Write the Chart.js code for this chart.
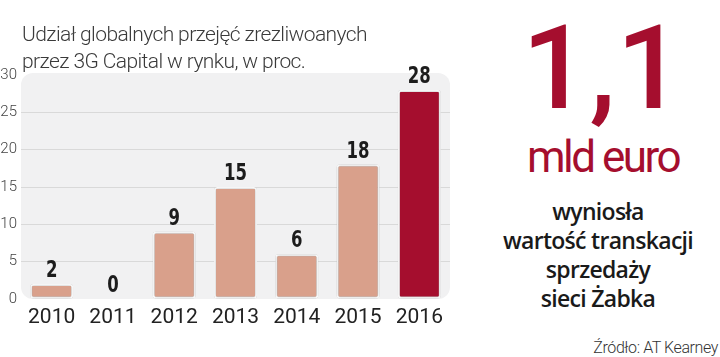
<!DOCTYPE html>
<html><head><meta charset="utf-8">
<script src="https://cdn.jsdelivr.net/npm/chart.js@4"></script>
<style>
html,body{margin:0;padding:0;background:#fff;width:720px;height:357px;overflow:hidden}
#wrap{position:absolute;left:0;top:0;width:460px;height:357px}
.t{position:absolute;white-space:nowrap}
#title{left:22px;top:21px;font-family:Roboto,sans-serif;font-weight:300;font-size:21px;line-height:27px;color:#3a3a3a;letter-spacing:-0.6px}
#big{left:503px;width:200px;top:10px;text-align:center;font-family:Roboto,sans-serif;font-weight:500;font-size:117px;line-height:117px;color:#a50e2e;letter-spacing:1px}
#mld{left:503px;width:200px;top:135px;text-align:center;font-family:Roboto,sans-serif;font-weight:400;font-size:44px;line-height:44px;color:#a50e2e;letter-spacing:-2.5px}
#desc{left:488px;width:220px;top:197px;text-align:center;font-family:"Open Sans",sans-serif;font-weight:600;font-size:23px;line-height:29px;color:#1a1a1a;letter-spacing:-0.7px}
#src{right:2px;top:340px;font-family:Roboto,sans-serif;font-weight:300;font-size:16px;line-height:16px;color:#333;letter-spacing:-0.4px}
</style></head><body>
<div id="wrap"><canvas id="c" width="460" height="357"></canvas></div>
<div class="t" id="title">Udział globalnych przejęć zrezliwoanych<br>przez 3G Capital w rynku, w proc.</div>
<div class="t" id="big">1,1</div>
<div class="t" id="mld">mld euro</div>
<div class="t" id="desc">wyniosła<br>wartość transkacji<br>sprzedaży<br>sieci Żabka</div>
<div class="t" id="src">Źródło: AT Kearney</div>
<script>
const categories = ["2010","2011","2012","2013","2014","2015","2016"];
const values = [2, 0, 9, 15, 6, 18, 28];
const barColors = ["#d9a08b","#d9a08b","#d9a08b","#d9a08b","#d9a08b","#d9a08b","#a50e2e"];
const yTicks = [0,5,10,15,20,25,30];

const bgPlugin = {
  id:'bg',
  beforeDraw(chart){
    const {ctx, chartArea:a} = chart;
    ctx.save();
    ctx.fillStyle = '#f1f1f2';
    ctx.beginPath();
    ctx.roundRect(a.left, a.top-2, a.right-a.left, a.bottom-a.top+2, 12);
    ctx.fill();
    ctx.restore();
  }
};
const shadowPlugin = {
  id:'shadow',
  beforeDatasetsDraw(chart){
    const ctx = chart.ctx; ctx.save();
    ctx.shadowColor = 'rgba(0,0,0,0.35)';
    ctx.shadowBlur = 2.5;
  },
  afterDatasetsDraw(chart){
    chart.ctx.restore();
    const ctx = chart.ctx;
    const meta = chart.getDatasetMeta(0);
    meta.data.forEach((bar, i) => {
      ctx.save();
      ctx.font = 'bold 23px "DejaVu Sans", sans-serif';
      ctx.fillStyle = '#1c1c1c';
      ctx.textAlign = 'center';
      ctx.textBaseline = 'alphabetic';
      ctx.translate(bar.x, bar.y - 7);
      ctx.scale(0.72, 1);
      ctx.fillText(String(values[i]), 0, 0);
      ctx.restore();
    });
  }
};

new Chart(document.getElementById('c'), {
  type:'bar',
  data:{labels:categories, datasets:[{data:values, backgroundColor:barColors, borderColor:'#ffffff', borderWidth:2, borderRadius:3, borderSkipped:false, categoryPercentage:1, barPercentage:0.7}]},
  options:{
    responsive:false, animation:false, devicePixelRatio:1,
    layout:{padding:{top:75, right:10, left:0, bottom:0}},
    plugins:{legend:{display:false}, tooltip:{enabled:false}},
    scales:{
      x:{grid:{display:false}, border:{display:false},
         ticks:{color:'#222', font:{family:'Roboto, sans-serif', size:21}, padding:-2},
         afterFit(s){ s.height = 58; }},
      y:{min:0,max:30, afterBuildTicks(s){ s.ticks = yTicks.map(v=>({value:v})); },
         grid:{color:(c)=> (c.tick && (c.tick.value===0||c.tick.value===30)) ? 'rgba(0,0,0,0)' : '#d9d9d9', lineWidth:1, drawTicks:false},
         border:{display:false},
         ticks:{color:'#444', font:{family:'Roboto, sans-serif', size:15, weight:'300'}, padding:4},
         afterFit(s){ s.width = 21; }}
    }
  },
  plugins:[bgPlugin, shadowPlugin]
});
</script>
</body></html>
